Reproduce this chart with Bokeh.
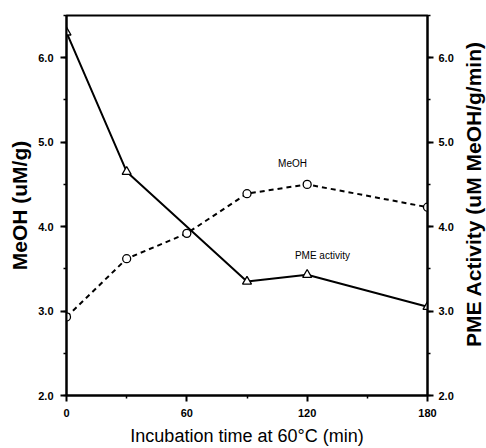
import math
from bokeh.plotting import figure
from bokeh.layouts import row
from bokeh.models import (Range1d, LinearAxis, FixedTicker, SingleIntervalTicker,
                          Label, ColumnDataSource, PrintfTickFormatter)
from bokeh.core.properties import value
from bokeh.embed import file_html
from bokeh.resources import INLINE

# ---- data ----
time_meoh = [0, 30, 60, 90, 120, 180]
meoh = [2.93, 3.62, 3.92, 4.39, 4.50, 4.23]

time_pme = [0, 30, 90, 120, 180]
pme_activity = [6.30, 4.65, 3.35, 3.43, 3.05]

x_ticks = [0, 60, 120, 180]
x_minor_ticks = [30, 90, 150]

right_title = "PME Activity (uM MeOH/g/min)"

FONT = "Liberation Sans"

p = figure(width=460, height=448, output_backend="svg", toolbar_location=None,
           x_range=Range1d(0, 180), y_range=Range1d(2.0, 6.5),
           min_border_left=66, min_border_right=33, min_border_top=15, min_border_bottom=53)
p.extra_y_ranges = {"pme": Range1d(2.0, 6.5)}

p.xgrid.visible = False
p.ygrid.visible = False
p.outline_line_color = "black"
p.outline_line_width = 2
p.background_fill_color = "white"
p.border_fill_color = "white"

# x axis
xa = p.xaxis[0]
xa.ticker = FixedTicker(ticks=x_ticks, minor_ticks=x_minor_ticks)
xa.axis_label = "Incubation time at 60°C (min)"

# left axis
ya = p.yaxis[0]
ya.ticker = SingleIntervalTicker(interval=1, num_minor_ticks=2)
ya.axis_label = "MeOH (uM/g)"

# right axis
ra = LinearAxis(y_range_name="pme",
                ticker=SingleIntervalTicker(interval=1, num_minor_ticks=2))
p.add_layout(ra, "right")

for ax in (xa, ya, ra):
    ax.axis_line_width = 2
    ax.axis_line_color = "black"
    ax.major_tick_line_width = 2
    ax.minor_tick_line_width = 1.5
    ax.major_tick_in = 0
    ax.major_tick_out = 6
    ax.minor_tick_in = 0
    ax.minor_tick_out = 3
    ax.major_label_text_font = FONT
    ax.major_label_text_font_style = "bold"
    ax.major_label_text_font_size = "11px"
    ax.major_label_text_color = "black"
    ax.axis_label_text_font = FONT
    ax.axis_label_text_color = "black"

ya.formatter = PrintfTickFormatter(format="%.1f")
ra.formatter = PrintfTickFormatter(format="%.1f")

xa.major_label_standoff = 7
xa.axis_label_standoff = 6
xa.axis_label_text_font_size = "18px"
xa.axis_label_text_font_style = "normal"

ya.major_label_standoff = 7
ya.axis_label_standoff = 4
ya.axis_label_text_font_size = "21px"
ya.axis_label_text_font_style = "bold"

ra.major_label_standoff = 5

# series
src_m = ColumnDataSource(dict(t=time_meoh, v=meoh))
src_p = ColumnDataSource(dict(t=time_pme, v=pme_activity))

p.line("t", "v", source=src_m, line_color="black", line_width=2, line_dash="5 4")
p.scatter("t", "v", source=src_m, marker="circle", size=8, fill_color="white",
          line_color="black", line_width=1.3)

p.line("t", "v", source=src_p, y_range_name="pme", line_color="black", line_width=2)
p.scatter("t", "v", source=src_p, y_range_name="pme", marker="triangle", size=9,
          fill_color="white", line_color="black", line_width=1.3)

# in-plot labels
p.add_layout(Label(x=112.7, y=4.745, text="MeOH", text_align="center",
                   text_baseline="middle", text_font=FONT, text_font_size="10px",
                   text_color="black"))
p.add_layout(Label(x=127.6, y=3.66, text="PME activity", y_range_name="pme",
                   text_align="center", text_baseline="middle", text_font=FONT,
                   text_font_size="10px", text_color="black"))

# narrow strip carrying the right-axis title, reading bottom-to-top
p2 = figure(width=26, height=448, output_backend="svg", toolbar_location=None,
            x_range=Range1d(0, 1), y_range=Range1d(0, 1),
            min_border_left=0, min_border_right=0, min_border_top=0, min_border_bottom=0)
p2.axis.visible = False
p2.xgrid.visible = False
p2.ygrid.visible = False
p2.outline_line_color = None
p2.background_fill_color = "white"
p2.border_fill_color = "white"
p2.text(x=[0.5], y=[0.53], text=[right_title], angle=math.pi / 2,
        text_align="center", text_baseline="middle", text_font=value(FONT),
        text_font_size="21px", text_font_style="bold", text_color="black")

layout = row(p, p2, spacing=0)
open("out.html", "w").write(file_html(layout, INLINE))
